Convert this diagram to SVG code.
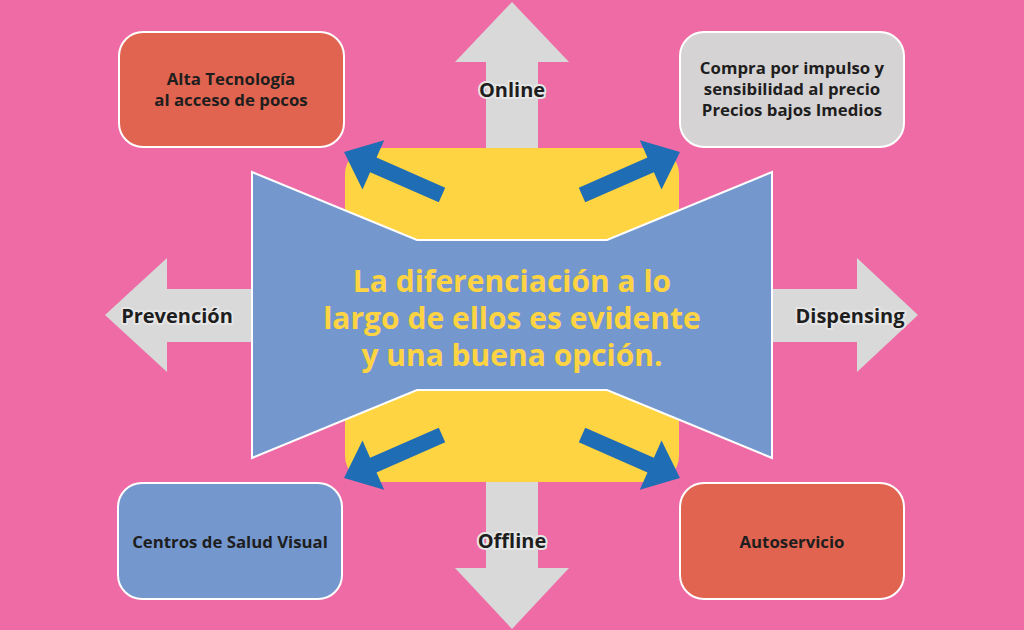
<svg xmlns="http://www.w3.org/2000/svg" width="1024" height="630" viewBox="0 0 1024 630">
<style>
.garrow{fill:#D9D9D9}
.lbl{font-family:"Open Sans","Liberation Sans",sans-serif;font-weight:700;font-size:20px;fill:#1E1E1E;text-anchor:middle;stroke:#E6E6E6;stroke-width:4;paint-order:stroke;stroke-linejoin:round}
.box{stroke:#FFFFFF;stroke-width:2}
.btxt{font-family:"Open Sans","Liberation Sans",sans-serif;font-weight:700;font-size:16.8px;fill:#1E1E1E;text-anchor:middle}
.barrow{fill:#1F6DB5}
.ctxt{font-family:"Open Sans","Liberation Sans",sans-serif;font-weight:700;font-size:30px;fill:#FFD443;text-anchor:middle}
</style>
<defs>
<polygon id="ba" points="0,-8 75,-8 75,-27 107,0 75,27 75,8 0,8"/>
</defs>
<rect width="1024" height="630" fill="#EE6BA5"/>
<g id="connectors">
<g id="arrow-online"><polygon class="garrow" points="486,160 486,62 455,62 512,2 569,62 538,62 538,160"/><text class="lbl" x="512" y="97">Online</text></g>
<g id="arrow-offline"><polygon class="garrow" points="486,470 486,568 455,568 512,629 569,568 538,568 538,470"/><text class="lbl" x="512" y="548">Offline</text></g>
<g id="arrow-prevencion"><polygon class="garrow" points="260,289 167,289 167,258 105,315 167,372 167,342 260,342"/><text class="lbl" x="177" y="323">Prevención</text></g>
<g id="arrow-dispensing"><polygon class="garrow" points="764,289 857,289 857,258 918,315 857,372 857,342 764,342"/><text class="lbl" x="850" y="323">Dispensing</text></g>
</g>
<g id="center">
<rect x="345" y="148" width="334" height="334" rx="26" fill="#FFD443"/>
<use href="#ba" class="barrow" transform="translate(442,195) rotate(203.7)"/>
<use href="#ba" class="barrow" transform="translate(582,195) rotate(-23.7)"/>
<use href="#ba" class="barrow" transform="translate(442,435) rotate(156.3)"/>
<use href="#ba" class="barrow" transform="translate(582,435) rotate(23.7)"/>
<polygon points="252,172 417,240 607,240 772,172 772,458 607,390 417,390 252,458" fill="#7497CE" stroke="#FFFFFF" stroke-width="2" stroke-linejoin="miter"/>
<text class="ctxt"><tspan x="512" y="292">La diferenciación a lo</tspan><tspan x="512" y="329">largo de ellos es evidente</tspan><tspan x="512" y="366">y una buena opción.</tspan></text>
</g>
<g id="box-alta">
<rect class="box" x="119" y="32" width="225" height="115" rx="24" fill="#E06450"/>
<text class="btxt"><tspan x="231" y="85">Alta Tecnología</tspan><tspan x="231" y="106">al acceso de pocos</tspan></text>
</g>
<g id="box-compra">
<rect class="box" x="680" y="32" width="224" height="115" rx="24" fill="#D6D3D4"/>
<text class="btxt"><tspan x="792" y="74">Compra por impulso y</tspan><tspan x="792" y="95">sensibilidad al precio</tspan><tspan x="792" y="116">Precios bajos Imedios</tspan></text>
</g>
<g id="box-centros">
<rect class="box" x="118" y="483" width="224" height="116" rx="24" fill="#7497CE"/>
<text class="btxt" x="230" y="548">Centros de Salud Visual</text>
</g>
<g id="box-auto">
<rect class="box" x="680" y="483" width="224" height="116" rx="24" fill="#E06450"/>
<text class="btxt" x="792" y="548">Autoservicio</text>
</g>
</svg>
